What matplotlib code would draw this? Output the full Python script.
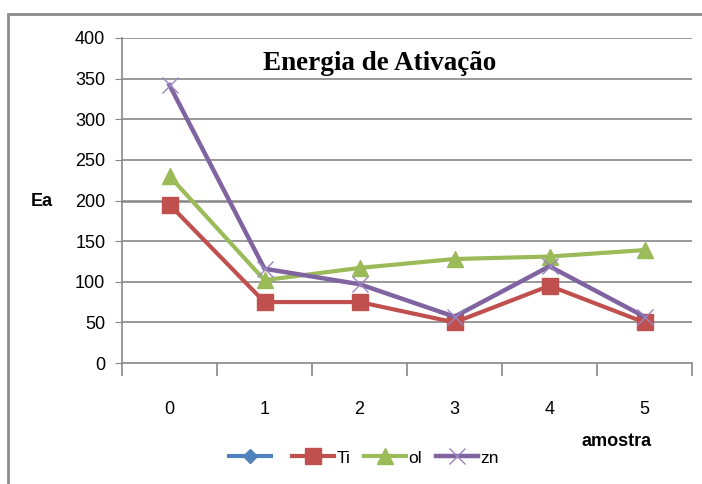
import numpy as np
import matplotlib.pyplot as plt
from matplotlib.patches import Rectangle

# Energia de ativação por amostra
amostras = [0, 1, 2, 3, 4, 5]
serie_vazia = [np.nan] * 6
ti = [195, 75, 75, 50, 95, 50]
ol = [230, 102, 117, 128, 131, 139]
zn = [342, 116, 97, 57, 119, 57]
y_ticks = [0, 50, 100, 150, 200, 250, 300, 350, 400]

sans = ['Liberation Sans', 'DejaVu Sans']

fig = plt.figure(figsize=(7.02, 4.84), dpi=100)
fig.patches.append(Rectangle((8 / 702, -0.1), 1.2, 1 - 14 / 484 + 0.1,
                             transform=fig.transFigure, fill=False,
                             edgecolor='#8c8c8c', linewidth=2))

ax = fig.add_axes([122 / 702, 121 / 484, 570 / 702, 325 / 484])

for y in y_ticks[1:]:
    lw = 1.8 if y == 200 else 1.2
    ax.axhline(y, color='#878787', linewidth=lw, zorder=0)

ax.plot(amostras, serie_vazia, color='#4F81BD', linewidth=3, marker='D',
        markersize=7, label=' ')
ax.plot(amostras, ti, color='#C0504D', linewidth=3, marker='s',
        markersize=11, label='Ti', zorder=3)
ax.plot(amostras, ol, color='#9BBB59', linewidth=3, marker='^',
        markersize=11, label='ol', zorder=4)
ax.plot(amostras, zn, color='#8064A2', linewidth=3.2, marker='x',
        markersize=11, markeredgewidth=1, markeredgecolor='#9a86c0',
        label='zn', zorder=5)

ax.set_xlim(-0.5, 5.5)
ax.set_ylim(0, 400)
ax.set_yticks(y_ticks)
ax.set_yticklabels([str(v) for v in y_ticks], family=sans, fontsize=13)
ax.tick_params(axis='y', length=5, color='#878787', pad=7)

ax.set_xticks(amostras)
ax.set_xticklabels([str(v) for v in amostras], family=sans, fontsize=13)
ax.set_xticks(np.arange(-0.5, 6, 1), minor=True)
ax.tick_params(axis='x', which='major', length=0, pad=27)
ax.tick_params(axis='x', which='minor', length=9, color='#878787', width=1.2)

for side in ['top', 'right']:
    ax.spines[side].set_visible(False)
ax.spines['left'].set_color('#878787')
ax.spines['bottom'].set_color('#878787')
ax.spines['left'].set_linewidth(1.2)
ax.spines['bottom'].set_linewidth(1.2)

fig.text(380 / 702, 1 - 63 / 484, 'Energia de Ativação', ha='center',
         va='center', family='Liberation Serif', fontweight='bold',
         fontsize=19.5)
fig.text(42 / 702, 1 - 202 / 484, 'Ea', ha='center', va='center',
         family=sans, fontweight='bold', fontsize=13)
fig.text(617 / 702, 1 - 441 / 484, 'amostra', ha='center', va='center',
         family=sans, fontweight='bold', fontsize=13)

handles, labels = ax.get_legend_handles_labels()
leg = fig.legend(handles, labels, loc='center', ncol=4,
                 bbox_to_anchor=(364 / 702, 1 - 458 / 484),
                 frameon=False, handlelength=2.4, handletextpad=0.15,
                 columnspacing=0.8, prop={'family': sans, 'size': 12.5})

fig.savefig('out.png', dpi=100)
